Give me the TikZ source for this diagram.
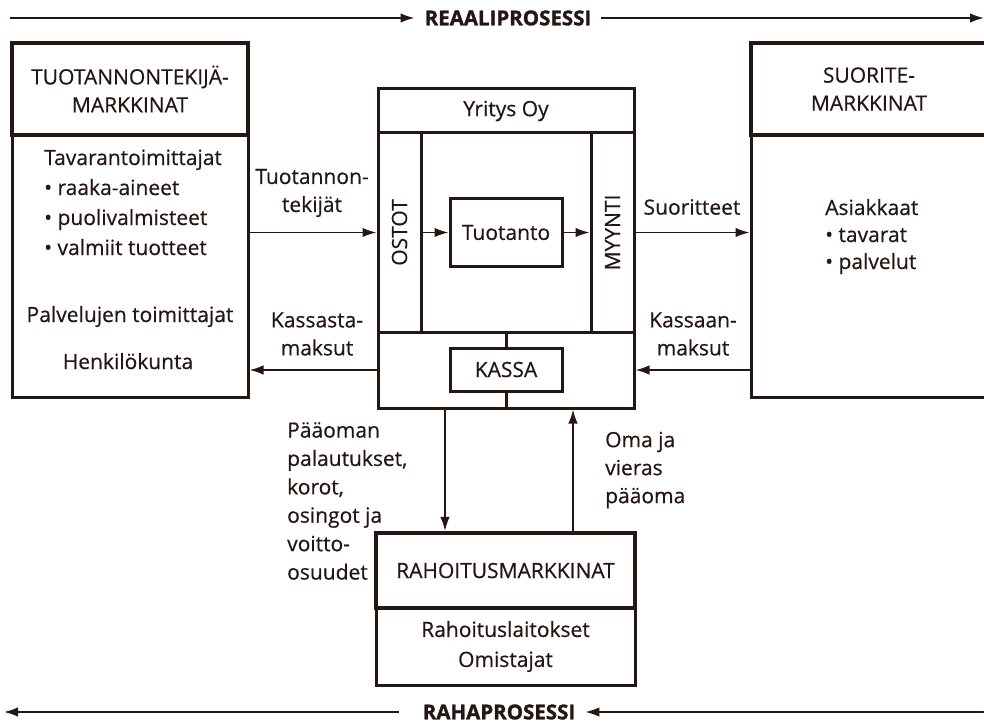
\documentclass[tikz,border=0pt]{standalone}
\usepackage{fontspec}
\setmainfont{Open Sans}[FakeBold=0.5]
\newfontfamily\prosessifont{Open Sans}[BoldFeatures={FakeBold=1.4}]
\usepackage{xcolor}
\usetikzlibrary{arrows.meta}
\definecolor{muste}{RGB}{36,22,18}

\begin{document}
\begin{tikzpicture}[x=1pt,y=-1pt,
    every node/.style={text=muste, font=\fontsize{21}{28}\selectfont},
    laatikko/.style={draw=muste, line width=3pt, inner sep=0pt},
    otsikko/.style={laatikko, line width=4.2pt, align=center},
    teksti/.style={inner sep=0pt, align=left},
    selite/.style={inner sep=0pt, align=center},
    nuoli/.style={draw=muste, line width=1.7pt, -{Latex[length=14pt,width=9.5pt]}},
    viiva/.style={draw=muste, line width=3pt},
    prosessi/.style={font=\fontsize{20.5}{22}\prosessifont\bfseries, inner ysep=0pt, inner xsep=10pt}]
    \clip (0,0) rectangle (984,727);
    % prosessit
    \node[prosessi] (reaali) at (508,18) {REAALIPROSESSI};
    \coordinate (reaalialku) at (10,18);
    \coordinate (reaaliloppu) at (984,18);
    \node[prosessi] (raha) at (499,712) {RAHAPROSESSI};
    \coordinate (rahaalku) at (984,712);
    \coordinate (rahaloppu) at (4,712);
    % tuotannontekijamarkkinat
    \node[laatikko, minimum width=236pt, minimum height=262pt] (tekrunko) at (130,266) {};
    \node[otsikko, minimum width=236pt, minimum height=92pt] (tekotsikko) at (130,89) {TUOTANNONTEKIJÄ-\\MARKKINAT};
    \node[teksti, anchor=base west, font=\fontsize{21}{30}\selectfont] (tavarat) at (44,255) {Tavarantoimittajat\\\textbullet{} raaka-aineet\\\textbullet{} puolivalmisteet\\\textbullet{} valmiit tuotteet};
    \node[teksti, anchor=base] (palvelut) at (130,322) {Palvelujen toimittajat};
    \node[teksti, anchor=base] (henkilot) at (128,369) {Henkilökunta};
    % suoritemarkkinat
    \node[laatikko, minimum width=236pt, minimum height=262pt] (suorrunko) at (869,266) {};
    \node[otsikko, minimum width=236pt, minimum height=92pt] (suorotsikko) at (869,89) {SUORITE-\\MARKKINAT};
    \node[teksti, anchor=base west, font=\fontsize{21}{27}\selectfont] (asiakkaat) at (825,269) {Asiakkaat\\\textbullet{} tavarat\\\textbullet{} palvelut};
    % yritys
    \node[laatikko, minimum width=256pt, minimum height=319pt] (yritys) at (506,248.5) {};
    \node[laatikko, minimum width=256pt, minimum height=44pt] (yritysnimi) at (506,111) {Yritys Oy};
    \node[laatikko, minimum width=43pt, minimum height=199pt] (ostot) at (399.5,232.5) {};
    \node[rotate=90, inner sep=0pt] at (ostot) {OSTOT};
    \node[laatikko, minimum width=43pt, minimum height=199pt] (myynti) at (612.5,232.5) {};
    \node[rotate=90, inner sep=0pt] at (myynti) {MYYNTI};
    \node[laatikko, minimum width=112pt, minimum height=68pt] (tuotanto) at (506,232.5) {Tuotanto};
    \node[laatikko, minimum width=256pt, minimum height=76pt] (kassaosa) at (506,370) {};
    \node[laatikko, minimum width=112pt, minimum height=43pt] (kassa) at (506,369.5) {KASSA};
    % rahoitusmarkkinat
    \node[laatikko, minimum width=259pt, minimum height=77pt] (rahrunko) at (505.5,646.5) {};
    \node[otsikko, minimum width=259pt, minimum height=75pt] (rahotsikko) at (505.5,570.5) {RAHOITUSMARKKINAT};
    \node[selite, font=\fontsize{21}{30}\selectfont] (rahoittajat) at (rahrunko) {Rahoituslaitokset\\Omistajat};
    % virtojen selitteet
    \node[selite] (tekijat) at (312,193) {Tuotannon-\\tekijät};
    \node[selite] (suoritteet) at (692,207) {Suoritteet};
    \node[selite] (kassasta) at (317,334) {Kassasta-\\maksut};
    \node[selite] (kassaan) at (693,334) {Kassaan-\\maksut};
    \node[teksti, anchor=west, font=\fontsize{21}{28.4}\selectfont] (palautukset) at (287,501) {Pääoman\\palautukset,\\korot,\\osingot ja\\voitto-\\osuudet};
    \node[teksti, anchor=west] (paaoma) at (605,470) {Oma ja\\vieras\\pääoma};
    \coordinate (alas) at (445,0);
    \coordinate (ylos) at (573,0);
    % nuolet
    \draw[nuoli] (reaalialku) -- (reaali.west);
    \draw[nuoli] (reaali.east) -- (reaaliloppu);
    \draw[nuoli, shorten <=14pt] (raha.west) -- (rahaloppu);
    \draw[nuoli] (rahaalku) -- (raha.east);
    \draw[nuoli] (tekrunko.east |- ostot.west) -- (ostot.west);
    \draw[nuoli] (ostot.east) -- (tuotanto.west);
    \draw[nuoli] (tuotanto.east) -- (myynti.west);
    \draw[nuoli] (myynti.east) -- (suorrunko.west |- myynti.east);
    \draw[nuoli] (kassaosa.west) -- (tekrunko.east |- kassaosa.west);
    \draw[nuoli] (suorrunko.west |- kassaosa.east) -- (kassaosa.east);
    \draw[viiva] (kassa.north) -- (kassaosa.north);
    \draw[viiva] (kassa.south) -- (kassaosa.south);
    \draw[nuoli] (kassaosa.south -| alas) -- (rahotsikko.north -| alas);
    \draw[nuoli] (rahotsikko.north -| ylos) -- (kassaosa.south -| ylos);
\end{tikzpicture}
\end{document}
